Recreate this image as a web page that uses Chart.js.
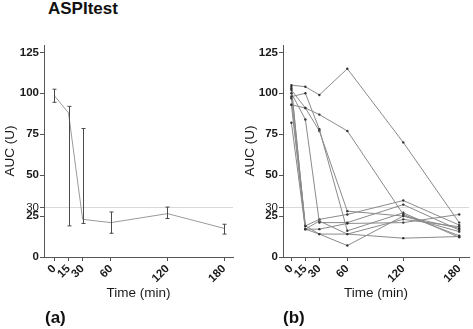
<!DOCTYPE html>
<html>
<head>
<meta charset="utf-8">
<script src="https://cdn.jsdelivr.net/npm/chart.js@4"></script>
<style>
  body { margin: 0; width: 473px; height: 329px; background: #fff; position: relative; overflow: hidden;
         font-family: "Liberation Sans", Arial, sans-serif; }
  .panel { position: absolute; top: 0; }
  #panelA { left: 0; }
  #panelB { left: 240px; }
  .lbl { position: absolute; font-weight: bold; color: #111; white-space: nowrap; }
  #title { left: 48px; top: 1px; font-size: 17px; line-height: 16px; }
  #tagA { left: 45px; top: 309px; font-size: 17px; line-height: 17px; }
  #tagB { left: 283px; top: 309px; font-size: 17px; line-height: 17px; }
</style>
</head>
<body>
<div class="lbl" id="title">ASPItest</div>
<canvas class="panel" id="panelA" width="240" height="329"></canvas>
<canvas class="panel" id="panelB" width="233" height="329"></canvas>
<div class="lbl" id="tagA">(a)</div>
<div class="lbl" id="tagB">(b)</div>

<script>
/* ------------------------------------------------------------
   DATA
------------------------------------------------------------ */
const TIME_POINTS = [0, 15, 30, 60, 120, 180];
const Y_TICKS = [0, 25, 30, 50, 75, 100, 125];
const REF_LINE = 30;

// (a) mean AUC with error range
const MEAN_AUC = [98.5, 88, 23, 21, 26.5, 17.5];
const ERR_LOW  = [94.5, 19, 20.5, 14.5, 23.5, 14];
const ERR_HIGH = [102.5, 92, 78.5, 27.5, 30.5, 20];

// (b) individual subjects
const SUBJ_01 = [105, 104, 99, 115, 70, 21];
const SUBJ_02 = [93, 91, 87, 77, 26, 13];
const SUBJ_03 = [98, 100, 78, 16, 27, 12];
const SUBJ_04 = [102, 91, 77, 28, 25, 17.5];
const SUBJ_05 = [100, 84, 21, 21, 32, 16.5];
const SUBJ_06 = [103, 19, 23, 26, 34.5, 19.5];
const SUBJ_07 = [104, 17, 22, 14, 23, 18.5];
const SUBJ_08 = [82, 17, 17, 20.5, 21, 26];
const SUBJ_09 = [97, 19, 14, 7, 25, 15.5];
const SUBJ_10 = [93, 17, 14, 14, 11.5, 12.5];
const SUBJECTS = [SUBJ_01, SUBJ_02, SUBJ_03, SUBJ_04, SUBJ_05,
                  SUBJ_06, SUBJ_07, SUBJ_08, SUBJ_09, SUBJ_10];

/* ------------------------------------------------------------
   SHARED STYLE
------------------------------------------------------------ */
const AXIS_COLOR = "#555";
const TEXT_COLOR = "#1a1a1a";
Chart.defaults.font.family = '"Liberation Sans", Arial, sans-serif';
Chart.defaults.color = TEXT_COLOR;

const toPoints = arr => arr.map((v, i) => ({ x: TIME_POINTS[i], y: v }));

function buildScales(yWidth, xMin, xMax) {
    return {
        x: {
            type: "linear",
            min: xMin,
            max: xMax,
            afterBuildTicks: s => { s.ticks = TIME_POINTS.map(v => ({ value: v })); },
            afterFit: s => { s.height = 72; s.paddingRight = 0; s.paddingLeft = 0; },
            grid: { drawOnChartArea: false, tickLength: 4, tickColor: AXIS_COLOR },
            border: { color: AXIS_COLOR, width: 1 },
            ticks: { autoSkip: false, minRotation: 45, maxRotation: 45, padding: 1,
                     font: { size: 11.5, weight: "bold" } },
            title: { display: true, text: "Time (min)", font: { size: 13.5 },
                     padding: { top: 4, bottom: 28 } }
        },
        y: {
            type: "linear",
            min: 0,
            max: 129.5,
            afterBuildTicks: s => { s.ticks = Y_TICKS.map(v => ({ value: v })); },
            afterFit: s => { s.width = yWidth; },
            grid: {
                tickLength: 4,
                tickColor: AXIS_COLOR,
                color: ctx => (ctx.tick && ctx.tick.value === REF_LINE) ? "#d9d9d9" : "rgba(0,0,0,0)"
            },
            border: { color: AXIS_COLOR, width: 1 },
            ticks: {
                autoSkip: false, padding: 1,
                font: ctx => ({ size: 11.5,
                                weight: (ctx.tick && ctx.tick.value === REF_LINE) ? "normal" : "bold" })
            },
            title: { display: true, text: "AUC (U)", font: { size: 13.5 },
                     padding: { top: 2, bottom: 0 } }
        }
    };
}

/* ------------------------------------------------------------
   ERROR BAR PLUGIN (panel a)
------------------------------------------------------------ */
const errorBars = {
    id: "errorBars",
    afterDatasetsDraw(chart) {
        const { ctx, scales: { x, y } } = chart;
        ctx.save();
        ctx.strokeStyle = "#4a4a4a";
        ctx.lineWidth = 1;
        TIME_POINTS.forEach((t, i) => {
            const px = Math.round(x.getPixelForValue(t)) + 0.5;
            const yl = y.getPixelForValue(ERR_LOW[i]);
            const yh = y.getPixelForValue(ERR_HIGH[i]);
            ctx.beginPath();
            ctx.moveTo(px, yl); ctx.lineTo(px, yh);
            ctx.moveTo(px - 2, yl); ctx.lineTo(px + 2, yl);
            ctx.moveTo(px - 2, yh); ctx.lineTo(px + 2, yh);
            ctx.stroke();
        });
        ctx.restore();
    }
};

/* ------------------------------------------------------------
   PANEL (a): MEAN ± RANGE
------------------------------------------------------------ */
new Chart(document.getElementById("panelA"), {
    type: "scatter",
    data: {
        datasets: [{
            data: toPoints(MEAN_AUC),
            showLine: true,
            borderColor: "#9a9a9a",
            borderWidth: 1,
            pointRadius: 0
        }]
    },
    options: {
        responsive: false,
        devicePixelRatio: 1,
        animation: false,
        layout: { padding: { top: 45, right: 7, bottom: 0, left: 0 } },
        plugins: { legend: { display: false }, tooltip: { enabled: false } },
        scales: buildScales(44, -11, 189.5)
    },
    plugins: [errorBars]
});

/* ------------------------------------------------------------
   PANEL (b): INDIVIDUAL CURVES
------------------------------------------------------------ */
new Chart(document.getElementById("panelB"), {
    type: "scatter",
    data: {
        datasets: SUBJECTS.map(s => ({
            data: toPoints(s),
            showLine: true,
            borderColor: "#8a8a8a",
            borderWidth: 1,
            pointRadius: 1.2,
            pointBackgroundColor: "#333",
            pointBorderWidth: 0
        }))
    },
    options: {
        responsive: false,
        devicePixelRatio: 1,
        animation: false,
        layout: { padding: { top: 45, right: 0, bottom: 0, left: 0 } },
        plugins: { legend: { display: false }, tooltip: { enabled: false } },
        scales: buildScales(43, -9, 190.5)
    }
});
</script>
</body>
</html>
